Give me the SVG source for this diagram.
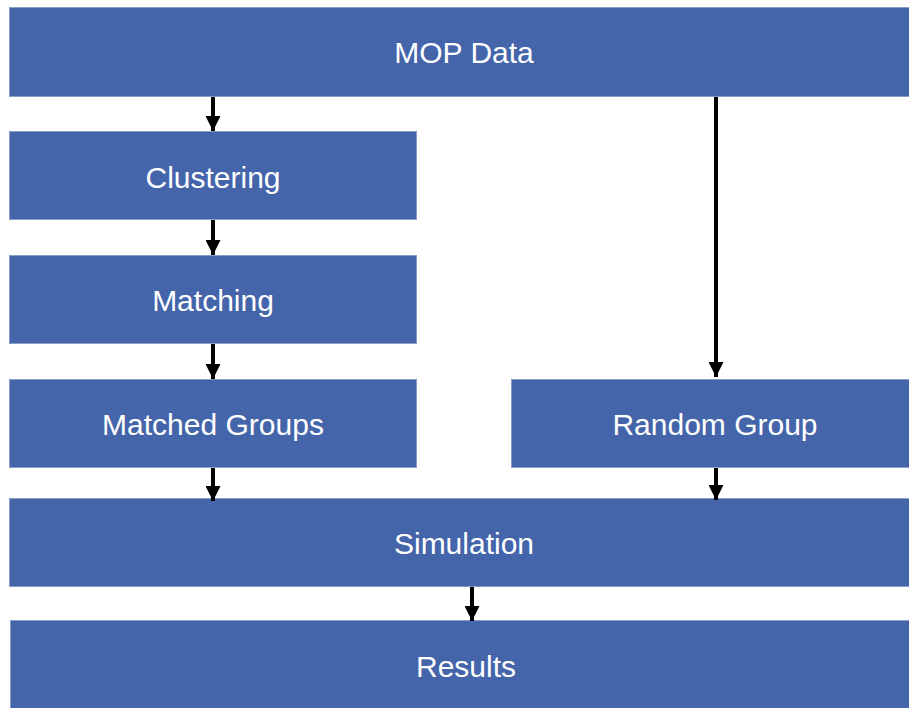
<svg xmlns="http://www.w3.org/2000/svg" width="909" height="708" viewBox="0 0 909 708">
  <defs>
    <style>
      .box { fill: #4565ab; stroke: #8a9cc8; stroke-width: 1; }
      .lbl { fill: #ffffff; font-family: "Liberation Sans", Arial, sans-serif; font-size: 30px; text-anchor: middle; }
      .edge { stroke: #000000; stroke-width: 4; fill: none; marker-end: url(#head); }
    </style>
    <marker id="head" viewBox="0 0 15 15" refX="15" refY="7.5" markerWidth="15" markerHeight="15" markerUnits="userSpaceOnUse" orient="auto">
      <path d="M0,0 L15,7.5 L0,15 Z" fill="#000000"/>
    </marker>
  </defs>

  <rect width="909" height="708" fill="#ffffff"/>

  <g id="mop-data">
    <rect class="box" x="9.5" y="7.5" width="905" height="89"/>
    <text class="lbl" x="464" y="63">MOP Data</text>
  </g>
  <g id="clustering">
    <rect class="box" x="9.5" y="131.5" width="407" height="88"/>
    <text class="lbl" x="213" y="188">Clustering</text>
  </g>
  <g id="matching">
    <rect class="box" x="9.5" y="255.5" width="407" height="88"/>
    <text class="lbl" x="213" y="311">Matching</text>
  </g>
  <g id="matched-groups">
    <rect class="box" x="9.5" y="379.5" width="407" height="88"/>
    <text class="lbl" x="213" y="435">Matched Groups</text>
  </g>
  <g id="random-group">
    <rect class="box" x="511.5" y="379.5" width="403" height="88"/>
    <text class="lbl" x="715" y="435">Random Group</text>
  </g>
  <g id="simulation">
    <rect class="box" x="9.5" y="498.5" width="905" height="88"/>
    <text class="lbl" x="464" y="554">Simulation</text>
  </g>
  <g id="results">
    <rect class="box" x="10.5" y="620.5" width="904" height="92"/>
    <text class="lbl" x="466" y="677">Results</text>
  </g>

  <g id="connectors">
    <line class="edge" x1="213" y1="97" x2="213" y2="131"/>
    <line class="edge" x1="213" y1="220" x2="213" y2="255"/>
    <line class="edge" x1="213" y1="344" x2="213" y2="379"/>
    <line class="edge" x1="716" y1="97" x2="716" y2="377"/>
    <line class="edge" x1="213" y1="468" x2="213" y2="501"/>
    <line class="edge" x1="716" y1="468" x2="716" y2="500"/>
    <line class="edge" x1="472" y1="587" x2="472" y2="621"/>
  </g>
</svg>
